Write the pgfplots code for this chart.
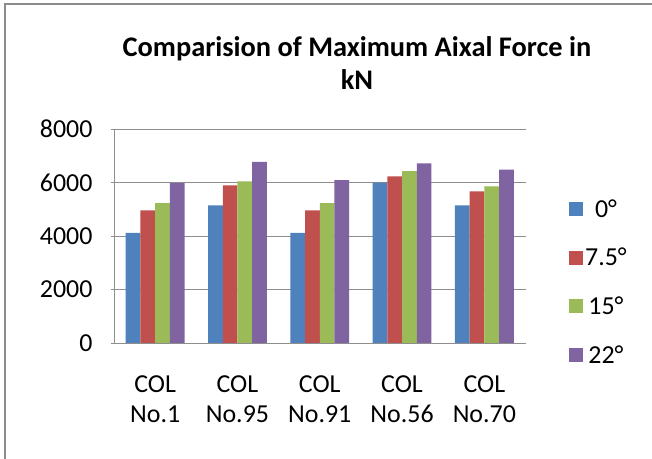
\documentclass[border=0pt]{standalone}
\usepackage{fontspec}
\setmainfont{Carlito}
\usepackage{pgfplots}
\pgfplotsset{compat=1.18}

\definecolor{sBlue}{HTML}{4F81BD}
\definecolor{sRed}{HTML}{C0504D}
\definecolor{sGreen}{HTML}{9BBB59}
\definecolor{sPurple}{HTML}{8064A2}
\definecolor{frameGray}{HTML}{8C8C8C}
\definecolor{gridGray}{HTML}{8E8E8E}

\begin{document}
\begin{tikzpicture}
\useasboundingbox (0bp,0bp) rectangle (652bp,459bp);
\fill[white] (0bp,0bp) rectangle (652bp,459bp);
\draw[frameGray, line width=2bp] (5bp,0bp) -- (5bp,455bp) -- (652bp,455bp);
\node[font=\fontsize{28.5}{33}\selectfont\bfseries, align=center] at (357bp,396bp)
  {Comparision of Maximum Aixal Force in\\kN};
\begin{axis}[
  at={(114bp,116bp)}, anchor=south west,
  scale only axis, width=411.5bp, height=214bp,
  ybar=0pt, bar width=14.7bp,
  xmin=-0.5, xmax=4.5, ymin=0, ymax=8000,
  xtick={0,1,2,3,4},
  xticklabels={{COL\\No.1},{COL\\No.95},{COL\\No.91},{COL\\No.56},{COL\\No.70}},
  xticklabel style={align=center, font=\fontsize{26}{30}\selectfont, yshift=-26bp},
  xtick style={draw=none},
  ytick={0,2000,4000,6000,8000},
  scaled y ticks=false,
  /pgf/number format/1000 sep={},
  /pgf/number format/assume math mode=true,
  yticklabel style={font=\fontsize{26}{30}\selectfont, xshift=-15bp},
  ymajorgrids, grid style={gridGray, line width=0.8bp},
  axis x line*=bottom, axis y line*=left,
  axis line style={gridGray, line width=0.8bp, -},
  ytick style={gridGray, line width=0.8bp},
  tick align=outside, major tick length=3bp,
  legend image code/.code={\fill[#1] (0bp,-7bp) rectangle (14bp,7bp);},
  legend style={draw=none, fill=none, inner sep=0pt, at={(1.1057,0.285)}, anchor=west,
    font=\fontsize{26}{30}\selectfont, row sep=25.5bp,
    /tikz/every even column/.append style={column sep=0bp}},
]
\addplot[fill=sBlue, draw=none] coordinates {(0,4120) (1,5146) (2,4120) (3,5992) (4,5146)};
\addplot[fill=sRed, draw=none] coordinates {(0,4958) (1,5895) (2,4958) (3,6232) (4,5670)};
\addplot[fill=sGreen, draw=none] coordinates {(0,5232) (1,6045) (2,5232) (3,6430) (4,5857)};
\addplot[fill=sPurple, draw=none] coordinates {(0,5981) (1,6767) (2,6093) (3,6718) (4,6479)};
\legend{0°, 7.5°, 15°, 22°}
\end{axis}
\end{tikzpicture}
\end{document}
